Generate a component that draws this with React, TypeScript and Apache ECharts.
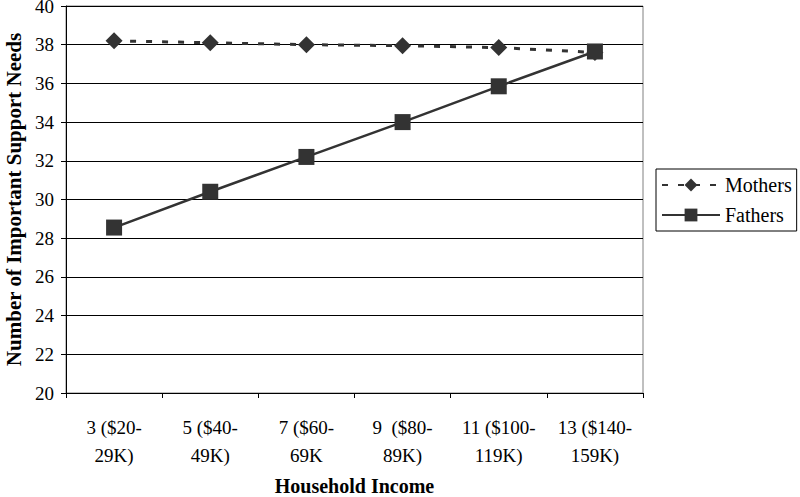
import React, { useEffect, useRef } from "react";
import * as echarts from "echarts";

const categories = [
  "3 ($20-\n29K)",
  "5 ($40-\n49K)",
  "7 ($60-\n69K",
  "9  ($80-\n89K)",
  "11 ($100-\n119K)",
  "13 ($140-\n159K)",
];
const mothers = [38.2, 38.1, 38.0, 37.95, 37.85, 37.6];
const fathers = [28.55, 30.4, 32.2, 34.0, 35.85, 37.65];

const FONT = "'Liberation Serif', 'Times New Roman', serif";

export default function App() {
  const ref = useRef<HTMLDivElement>(null);
  useEffect(() => {
    document.body.style.margin = "0";
    if (!ref.current) return;
    const chart = echarts.init(ref.current, undefined, { renderer: "svg" });
    chart.setOption({
      animation: false,
      backgroundColor: "#ffffff",
      textStyle: { fontFamily: FONT },
      grid: {
        left: 66,
        right: 157,
        top: 6,
        bottom: 104,
        show: true,
        borderColor: "#808080",
        borderWidth: 1,
        containLabel: false,
        outerBoundsMode: "none",
      },
      legend: {
        orient: "vertical",
        left: 656,
        top: 169,
        padding: [6, 5, 6, 5],
        itemGap: 10,
        itemWidth: 58,
        itemHeight: 16,
        borderColor: "#000",
        borderWidth: 1,
        textStyle: { fontFamily: FONT, fontSize: 20, color: "#000" },
        data: ["Mothers", "Fathers"],
      },
      xAxis: {
        type: "category",
        data: categories,
        boundaryGap: true,
        name: "Household Income",
        nameLocation: "middle",
        nameGap: 83,
        nameTextStyle: { fontFamily: FONT, fontSize: 20, fontWeight: "bold", color: "#000" },
        axisLine: { lineStyle: { color: "#000", width: 1 } },
        axisTick: { show: true, length: 5, lineStyle: { color: "#000" } },
        axisLabel: {
          fontFamily: FONT,
          fontSize: 19,
          color: "#000",
          lineHeight: 28,
          margin: 20,
          interval: 0,
        },
      },
      yAxis: {
        type: "value",
        min: 20,
        max: 40,
        interval: 2,
        name: "Number of Important Support Needs",
        nameLocation: "middle",
        nameGap: 42,
        nameTextStyle: { fontFamily: FONT, fontSize: 21, fontWeight: "bold", color: "#000" },
        axisLine: { show: true, lineStyle: { color: "#000", width: 1 } },
        axisTick: { show: true, length: 5, lineStyle: { color: "#000" } },
        axisLabel: { fontFamily: FONT, fontSize: 19, lineHeight: 12, color: "#000", margin: 12 },
        splitLine: { show: true, lineStyle: { color: "#000", width: 1 } },
      },
      series: [
        {
          name: "Mothers",
          type: "line",
          data: mothers,
          symbol: "diamond",
          symbolSize: 17,
          itemStyle: { color: "#333333" },
          lineStyle: { color: "#333333", width: 3, type: [6, 10] },
        },
        {
          name: "Fathers",
          type: "line",
          data: fathers,
          symbol: "rect",
          symbolSize: 16,
          itemStyle: { color: "#333333" },
          lineStyle: { color: "#333333", width: 2.5, type: "solid" },
        },
      ],
    });
    return () => chart.dispose();
  }, []);
  return <div ref={ref} style={{ width: 800, height: 497 }} />;
}
